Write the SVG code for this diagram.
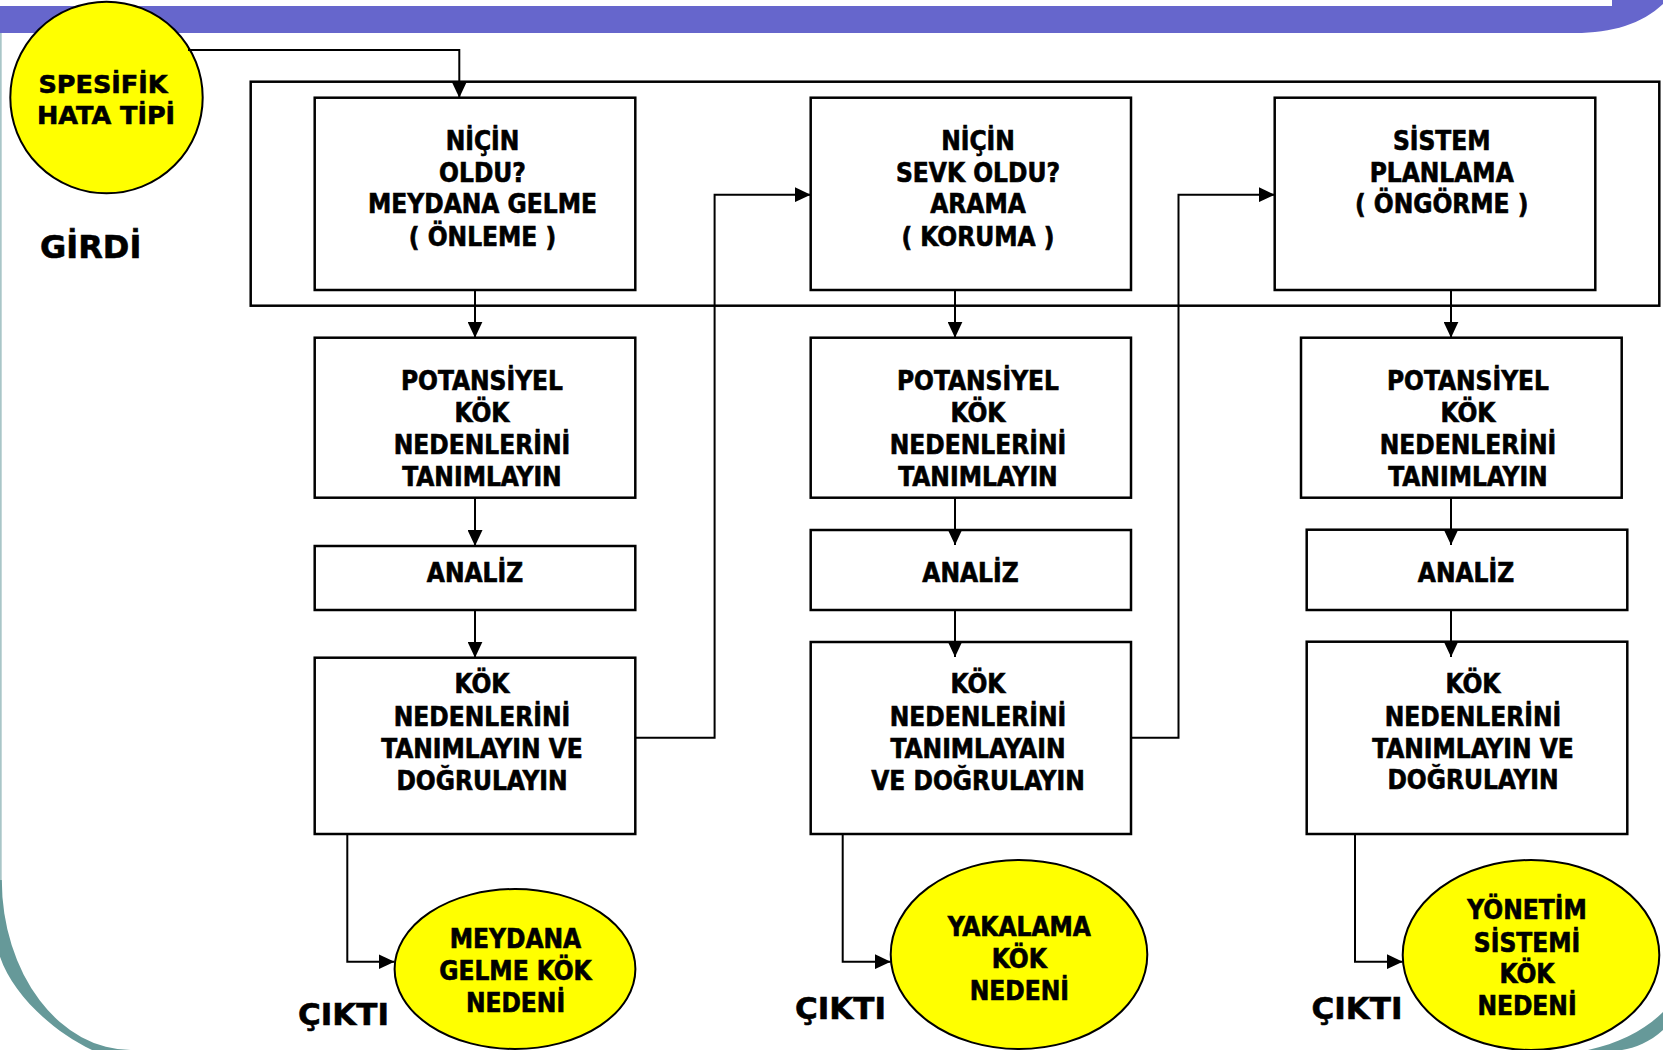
<svg xmlns="http://www.w3.org/2000/svg" width="1663" height="1050" viewBox="0 0 1663 1050">
<style>
.box{fill:#fff;stroke:#000;stroke-width:2.5}
.yel{fill:#ff0;stroke:#000;stroke-width:2}
.t{font-family:"DejaVu Sans Condensed","DejaVu Sans",sans-serif;font-stretch:condensed;font-weight:bold;font-size:26px;text-anchor:middle;fill:#000;stroke:#000;stroke-width:0.6}
.w{font-family:"DejaVu Sans",sans-serif;font-weight:bold;fill:#000;stroke:#000;stroke-width:0.6}
.c{fill:none;stroke:#000;stroke-width:2;marker-end:url(#ah)}
</style>
<defs>
<marker id="ah" markerUnits="userSpaceOnUse" markerWidth="16" markerHeight="15" refX="16" refY="7.5" orient="auto">
<path d="M0,0 L16,7.5 L0,15 Z" fill="#000"/>
</marker>
</defs>
<rect width="1663" height="1050" fill="#fff"/>
<g id="slide-frame">
<path d="M0,6 H1612 V0 H1663 V4 C1642,24 1612,33 1575,33 H0 Z" fill="#6666cc"/>
<line x1="0.8" y1="33" x2="0.8" y2="885" stroke="#a9c6c8" stroke-width="1.8"/>
<path d="M-2,880 L1.8,880 A129,170 0 0 0 131,1050 L92,1050 C50,1030 8,990 -2,950 Z" fill="#669999"/>
<path d="M1588,1050 C1620,1043 1645,1030 1663,1012 L1663,1030 C1650,1042 1635,1048 1622,1050 Z" fill="#669999"/>
</g>
<g id="group-box"><rect x="250.7" y="81.7" width="1408.6" height="224" class="box"/></g>
<g id="n-spesifik">
<ellipse cx="106.5" cy="97.5" rx="96.2" ry="95.8" class="yel"/>
<text class="w" font-size="25.5" text-anchor="middle"><tspan x="103" y="92.7">SPESİFİK</tspan><tspan x="106" y="124.2">HATA TİPİ</tspan></text>
</g>
<g id="l-girdi"><text class="w" font-size="32" x="40" y="258">GİRDİ</text></g>
<g id="n-nicin-oldu">
<rect x="314.7" y="97.7" width="320.6" height="192.3" class="box"/>
<text class="t"><tspan x="482.5" y="150">NİÇİN</tspan><tspan x="482.5" y="181.7">OLDU?</tspan><tspan x="482.5" y="213.3">MEYDANA GELME</tspan><tspan x="482.5" y="245.7">( ÖNLEME )</tspan></text>
</g>
<g id="n-nicin-sevk">
<rect x="810.7" y="97.7" width="320.3" height="192.3" class="box"/>
<text class="t"><tspan x="978" y="150">NİÇİN</tspan><tspan x="978" y="181.7">SEVK OLDU?</tspan><tspan x="978" y="213.3">ARAMA</tspan><tspan x="978" y="245.7">( KORUMA )</tspan></text>
</g>
<g id="n-sistem">
<rect x="1274.7" y="97.7" width="320.6" height="192.3" class="box"/>
<text class="t"><tspan x="1441.7" y="150">SİSTEM</tspan><tspan x="1441.7" y="181.7">PLANLAMA</tspan><tspan x="1441.7" y="213.3">( ÖNGÖRME )</tspan></text>
</g>
<g id="n-pot1">
<rect x="314.7" y="337.7" width="320.6" height="160" class="box"/>
<text class="t"><tspan x="482" y="390">POTANSİYEL</tspan><tspan x="482" y="421.7">KÖK</tspan><tspan x="482" y="453.5">NEDENLERİNİ</tspan><tspan x="482" y="485.7">TANIMLAYIN</tspan></text>
</g>
<g id="n-pot2">
<rect x="810.7" y="337.7" width="320.3" height="160" class="box"/>
<text class="t"><tspan x="978" y="390">POTANSİYEL</tspan><tspan x="978" y="421.7">KÖK</tspan><tspan x="978" y="453.5">NEDENLERİNİ</tspan><tspan x="978" y="485.7">TANIMLAYIN</tspan></text>
</g>
<g id="n-pot3">
<rect x="1301" y="337.7" width="320.7" height="160" class="box"/>
<text class="t"><tspan x="1468" y="390">POTANSİYEL</tspan><tspan x="1468" y="421.7">KÖK</tspan><tspan x="1468" y="453.5">NEDENLERİNİ</tspan><tspan x="1468" y="485.7">TANIMLAYIN</tspan></text>
</g>
<g id="n-analiz1">
<rect x="314.7" y="546" width="320.6" height="64" class="box"/>
<text class="t" x="475" y="581.7">ANALİZ</text>
</g>
<g id="n-analiz2">
<rect x="810.7" y="530" width="320.3" height="80" class="box"/>
<text class="t" x="970.5" y="581.7">ANALİZ</text>
</g>
<g id="n-analiz3">
<rect x="1306.7" y="529.7" width="320.6" height="80.3" class="box"/>
<text class="t" x="1466" y="581.7">ANALİZ</text>
</g>
<g id="n-kok1">
<rect x="314.7" y="657.7" width="320.6" height="176.3" class="box"/>
<text class="t"><tspan x="482" y="693.3">KÖK</tspan><tspan x="482" y="725.5">NEDENLERİNİ</tspan><tspan x="482" y="757.7">TANIMLAYIN VE</tspan><tspan x="482" y="789.5">DOĞRULAYIN</tspan></text>
</g>
<g id="n-kok2">
<rect x="810.7" y="642" width="320.3" height="192" class="box"/>
<text class="t"><tspan x="978" y="693.3">KÖK</tspan><tspan x="978" y="725.5">NEDENLERİNİ</tspan><tspan x="978" y="757.7">TANIMLAYAIN</tspan><tspan x="978" y="789.5">VE DOĞRULAYIN</tspan></text>
</g>
<g id="n-kok3">
<rect x="1306.7" y="641.7" width="320.6" height="192.3" class="box"/>
<text class="t"><tspan x="1473" y="693.3">KÖK</tspan><tspan x="1473" y="725.5">NEDENLERİNİ</tspan><tspan x="1473" y="757.7">TANIMLAYIN VE</tspan><tspan x="1473" y="789">DOĞRULAYIN</tspan></text>
</g>
<g id="n-out1">
<ellipse cx="515" cy="969" rx="120.4" ry="80" class="yel"/>
<text class="t"><tspan x="515.5" y="948.3">MEYDANA</tspan><tspan x="515.5" y="980">GELME KÖK</tspan><tspan x="515.5" y="1012.3">NEDENİ</tspan></text>
</g>
<g id="n-out2">
<ellipse cx="1019" cy="954.5" rx="128.3" ry="94.5" class="yel"/>
<text class="t"><tspan x="1019.3" y="936">YAKALAMA</tspan><tspan x="1019.3" y="968.3">KÖK</tspan><tspan x="1019.3" y="1000">NEDENİ</tspan></text>
</g>
<g id="n-out3">
<ellipse cx="1531" cy="955" rx="128.3" ry="95" class="yel"/>
<text class="t"><tspan x="1527" y="919.3">YÖNETİM</tspan><tspan x="1527" y="951.7">SİSTEMİ</tspan><tspan x="1527" y="983.3">KÖK</tspan><tspan x="1527" y="1015">NEDENİ</tspan></text>
</g>
<g id="l-cikti">
<text class="w" font-size="31" x="298" y="1025">ÇIKTI</text>
<text class="w" font-size="31" x="795" y="1019.3">ÇIKTI</text>
<text class="w" font-size="31" x="1311.5" y="1019.3">ÇIKTI</text>
</g>
<g id="connectors">
<path class="c" d="M188,50 H459.3 V97.7"/>
<path class="c" d="M475,290 V337.7"/>
<path class="c" d="M475,497.7 V546"/>
<path class="c" d="M475,610 V657.7"/>
<path class="c" d="M635.3,737.7 H714.6 V194.7 H810.7"/>
<path class="c" d="M955,290 V337.7"/>
<path class="c" d="M955,497.7 V545"/>
<path class="c" d="M955,610 V657"/>
<path class="c" d="M1131,737.7 H1178.5 V194.7 H1274.7"/>
<path class="c" d="M1451,290 V337.7"/>
<path class="c" d="M1451,497.7 V545"/>
<path class="c" d="M1451,610 V657"/>
<path class="c" d="M347.3,834 V961.7 H394.5"/>
<path class="c" d="M842.7,834 V961.7 H890.7"/>
<path class="c" d="M1355,834 V961.7 H1402.7"/>
</g>
</svg>
